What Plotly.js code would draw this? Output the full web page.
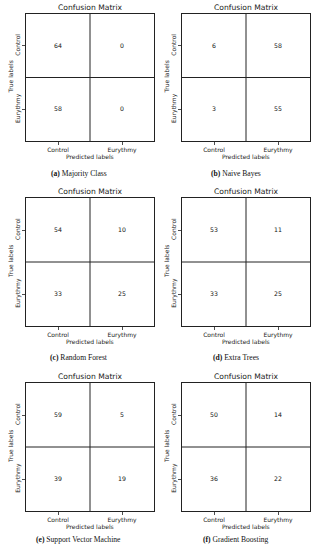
<!DOCTYPE html>
<html>
<head>
<meta charset="utf-8">
<script src="https://cdn.plot.ly/plotly-3.0.1.min.js"></script>
<style>html,body{margin:0;padding:0;background:#fff;}#chart{width:314px;height:550px;}</style>
</head>
<body>
<div id="chart"></div>
<script>
const classLabels = ['Control', 'Eurythmy'];
const majorityClass = [[64, 0], [58, 0]];
const naiveBayes = [[6, 58], [3, 55]];
const randomForest = [[54, 10], [33, 25]];
const extraTrees = [[53, 11], [33, 25]];
const supportVectorMachine = [[59, 5], [39, 19]];
const gradientBoosting = [[50, 14], [36, 22]];
const panelLetters = ['(a)', '(b)', '(c)', '(d)', '(e)', '(f)'];
const panelNames = ['Majority Class', 'Naive Bayes', 'Random Forest', 'Extra Trees', 'Support Vector Machine', 'Gradient Boosting'];

const matrices = [majorityClass, naiveBayes, randomForest, extraTrees, supportVectorMachine, gradientBoosting];

const W = 314, H = 550;
const colX = [[26, 154], [182, 310]];
const rowY = [[14, 141], [198, 326], [383, 511]];
const captionY = [173, 357, 539];
const captionX = [78.5, 235.5];

const sans = 'DejaVu Sans, sans-serif';
const data = [];
const layout = {
  width: W, height: H,
  margin: {l: 0, r: 0, t: 0, b: 0},
  paper_bgcolor: '#fff', plot_bgcolor: '#fff',
  showlegend: false,
  font: {family: sans, size: 6, color: '#222'},
  annotations: [], shapes: []
};

matrices.forEach((z, i) => {
  const r = Math.floor(i / 2), c = i % 2;
  const n = i + 1;
  const xa = 'x' + (n === 1 ? '' : n), ya = 'y' + (n === 1 ? '' : n);
  const xKey = 'xaxis' + (n === 1 ? '' : n), yKey = 'yaxis' + (n === 1 ? '' : n);
  data.push({
    type: 'heatmap', z: z, x: classLabels, y: classLabels,
    xaxis: xa, yaxis: ya,
    colorscale: [[0, '#ffffff'], [1, '#ffffff']], showscale: false,
    texttemplate: '%{z}', textfont: {family: sans, size: 6.2, color: '#111'},
    hoverinfo: 'skip'
  });
  const axCommon = {
    type: 'category', showgrid: false, zeroline: false,
    showline: true, mirror: true, linecolor: '#222', linewidth: 1,
    ticks: 'outside', ticklen: 3, tickwidth: 0.8, tickcolor: '#222',
    tickfont: {family: sans, size: 6, color: '#222'}, fixedrange: true
  };
  layout[xKey] = Object.assign({}, axCommon, {
    domain: [colX[c][0] / W, colX[c][1] / W], anchor: ya,
    range: [-0.5, 1.5], tickangle: 0
  });
  layout[yKey] = Object.assign({}, axCommon, {
    domain: [1 - rowY[r][1] / H, 1 - rowY[r][0] / H], anchor: xa,
    range: [1.5, -0.5], tickangle: -90
  });
  // inner dividing lines between cells
  layout.shapes.push({type: 'line', xref: xa, yref: ya + ' domain', x0: 0.5, x1: 0.5, y0: 0, y1: 1, line: {color: '#222', width: 1}});
  layout.shapes.push({type: 'line', xref: xa + ' domain', yref: ya, x0: 0, x1: 1, y0: 0.5, y1: 0.5, line: {color: '#222', width: 1}});
  // panel title
  layout.annotations.push({text: 'Confusion Matrix', xref: xa + ' domain', yref: ya + ' domain', x: 0.5, y: 1, yanchor: 'bottom', yshift: 0, showarrow: false, font: {family: sans, size: 7.6, color: '#222'}});
  // axis titles
  layout.annotations.push({text: 'Predicted labels', xref: xa + ' domain', yref: 'paper', x: 0.5, y: 1 - (rowY[r][1] + 15.5) / H, yanchor: 'middle', showarrow: false, font: {family: sans, size: 6, color: '#222'}});
  layout.annotations.push({text: 'True labels', xref: 'paper', yref: ya + ' domain', x: (colX[c][0] - 16) / W, y: 0.5, xanchor: 'center', textangle: -90, showarrow: false, font: {family: sans, size: 6, color: '#222'}});
  // caption
  layout.annotations.push({text: '<b>' + panelLetters[i] + '</b> ' + panelNames[i], xref: 'paper', yref: 'paper', x: captionX[c] / W, y: 1 - captionY[r] / H, xanchor: 'center', yanchor: 'middle', showarrow: false, font: {family: 'Liberation Serif, serif', size: 7.6, color: '#111'}});
});

Plotly.newPlot('chart', data, layout, {displayModeBar: false, staticPlot: true});
</script>
</body>
</html>
